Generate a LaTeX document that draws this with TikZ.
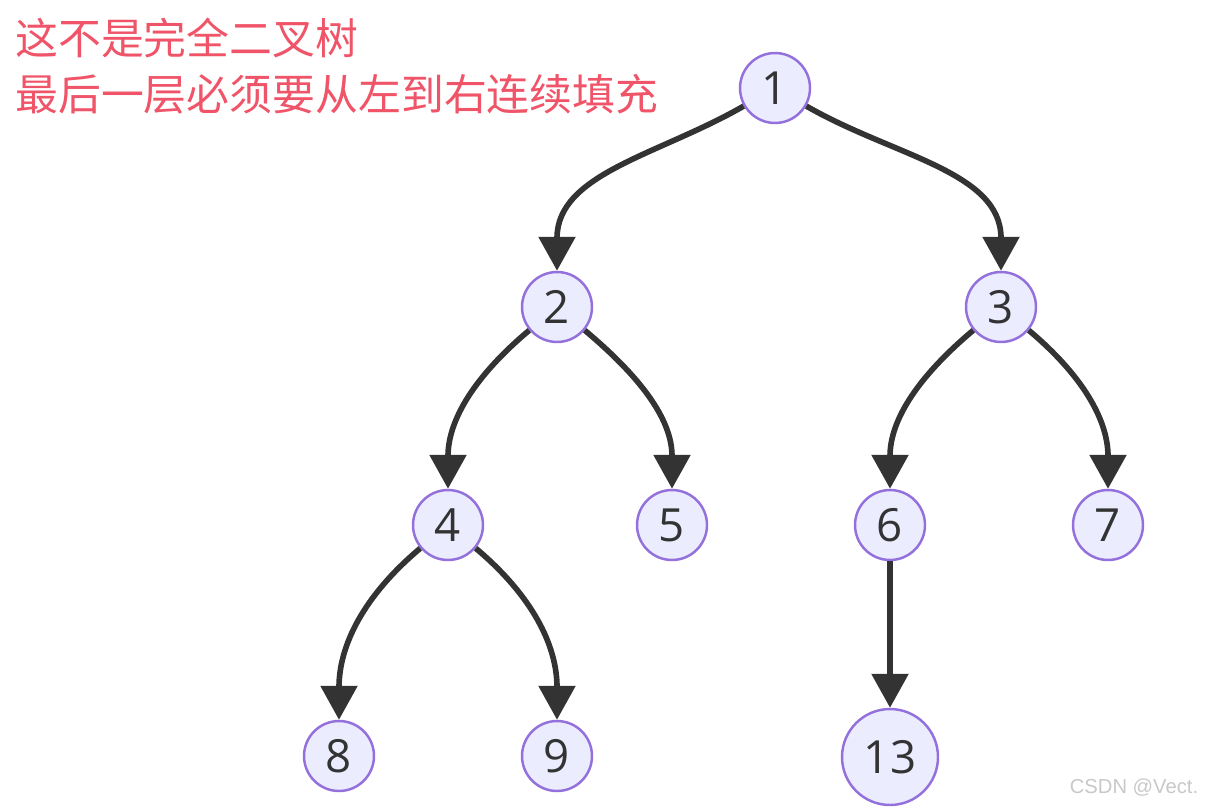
\documentclass[tikz,border=0pt]{standalone}
\usepackage{fontspec}
\setmainfont{Open Sans}
\newfontfamily\cjkfont{Noto Sans CJK SC}
\newfontfamily\markfont{Liberation Sans}
\usepackage{tikz}
\usetikzlibrary{arrows.meta}
\definecolor{treefill}{RGB}{236,236,255}
\definecolor{treeborder}{RGB}{147,112,219}
\definecolor{edgegray}{RGB}{51,51,51}
\definecolor{notered}{RGB}{240,84,104}
\definecolor{markgray}{RGB}{200,200,200}

\begin{document}
\begin{tikzpicture}[x=0.02cm,y=-0.02cm,
  treenode/.style={circle,draw=treeborder,fill=treefill,line width=1.4pt,
    minimum size=1.4cm,inner sep=0pt,text=edgegray,font=\fontsize{26}{30}\selectfont},
  treeedge/.style={draw=edgegray,line width=3.2pt,-{Triangle[length=0.68cm,width=0.72cm]}},
  note/.style={anchor=base west,inner sep=0pt,text=notered,font=\cjkfont\fontsize{24.4}{30}\selectfont}]
  \useasboundingbox (0,0) rectangle (1212,808);

  % Note
  \node[note] (note1) at (15,54) {这不是完全二叉树};
  \node[note] (note2) at (15,110) {最后一层必须要从左到右连续填充};

  % Tree nodes
  \node[treenode] (n1) at (775,88) {1};
  \node[treenode] (n2) at (557,307) {2};
  \node[treenode] (n3) at (1001,307) {3};
  \node[treenode] (n4) at (448,525) {4};
  \node[treenode] (n5) at (672,525) {5};
  \node[treenode] (n6) at (890,525) {6};
  \node[treenode] (n7) at (1108,525) {7};
  \node[treenode] (n8) at (339,756) {8};
  \node[treenode] (n9) at (557,756) {9};
  \node[treenode,minimum size=1.92cm] (n13) at (890,757) {13};

  % Edges
  \draw[treeedge] (n1) to[out=210,in=90] (n2);
  \draw[treeedge] (n1) to[out=-30,in=90] (n3);
  \draw[treeedge] (n2) to[out=220,in=90] (n4);
  \draw[treeedge] (n2) to[out=-40,in=90] (n5);
  \draw[treeedge] (n3) to[out=220,in=90] (n6);
  \draw[treeedge] (n3) to[out=-40,in=90] (n7);
  \draw[treeedge] (n4) to[out=220,in=90] (n8);
  \draw[treeedge] (n4) to[out=-40,in=90] (n9);
  \draw[treeedge] (n6) -- (n13);

  % Watermark
  \node[text=markgray,font=\markfont\fontsize{11.5}{13}\selectfont] (mark) at (1134,788) {CSDN @Vect.};
\end{tikzpicture}
\end{document}
